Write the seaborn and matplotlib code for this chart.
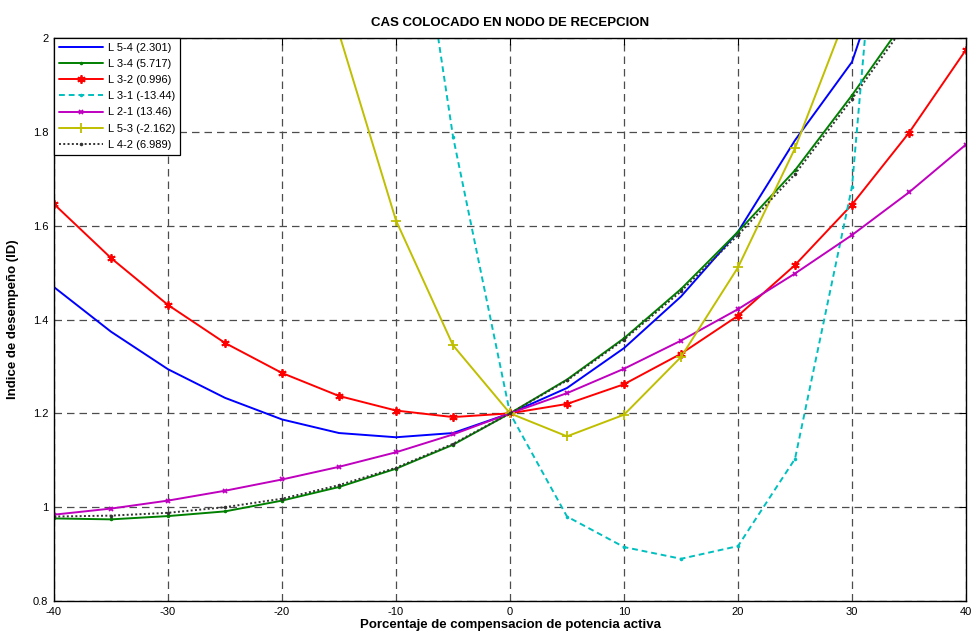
import seaborn as sns
import matplotlib.pyplot as plt
import pandas as pd

# porcentaje de compensacion
x = [-40, -35, -30, -25, -20, -15, -10, -5, 0, 5, 10, 15, 20, 25, 30, 35, 40]

# indice de desempeno por linea (valores fuera de 0.8-2 quedan recortados)
l54 = [1.469, 1.374, 1.294, 1.233, 1.187, 1.158, 1.149, 1.158, 1.2, 1.254, 1.339, 1.449, 1.587, 1.782, 1.949, 2.31, 2.70]
l34 = [0.976, 0.974, 0.981, 0.991, 1.014, 1.043, 1.082, 1.133, 1.2, 1.272, 1.360, 1.465, 1.587, 1.718, 1.878, 2.05, 2.25]
l32 = [1.646, 1.531, 1.431, 1.350, 1.286, 1.237, 1.206, 1.192, 1.2, 1.220, 1.262, 1.327, 1.408, 1.516, 1.645, 1.798, 1.975]
l31 = [7.0, 5.5, 4.5, 3.8, 3.3, 2.95, 2.6, 1.79, 1.2, 0.980, 0.915, 0.890, 0.917, 1.103, 1.683, 3.08, 4.5]
l21 = [0.984, 0.997, 1.014, 1.035, 1.059, 1.086, 1.117, 1.155, 1.2, 1.243, 1.295, 1.355, 1.422, 1.498, 1.580, 1.671, 1.773]
l53 = [6.6, 5.3, 4.2, 3.3, 2.6, 2.01, 1.611, 1.345, 1.2, 1.151, 1.197, 1.320, 1.511, 1.765, 2.08, 2.5, 3.0]
l42 = [0.980, 0.982, 0.988, 1.000, 1.018, 1.047, 1.084, 1.135, 1.2, 1.270, 1.357, 1.460, 1.580, 1.710, 1.870, 2.04, 2.24]

labels = ["L 5-4 (2.301)", "L 3-4 (5.717)", "L 3-2 (0.996)", "L 3-1 (-13.44)",
          "L 2-1 (13.46)", "L 5-3 (-2.162)", "L 4-2 (6.989)"]
series = [l54, l34, l32, l31, l21, l53, l42]

colors = ["#0000ff", "#008000", "#ff0000", "#00bfbf", "#bf00bf", "#bfbf00", "#333333"]
markers = [None, ".", (6, 2, 0), ".", "x", "+", "."]
msizes = [0, 2.5, 6, 2.5, 3.5, 7, 2.5]
styles = ["-", "-", "-", (0, (3, 2)), "-", "-", (0, (1, 1.2))]

sns.set_style("white")
plt.rcParams['font.family'] = ['Liberation Sans', 'DejaVu Sans']
plt.rcParams['axes.unicode_minus'] = False
plt.rcParams['text.color'] = 'black'
plt.rcParams['axes.labelcolor'] = 'black'

fig = plt.figure(figsize=(9.71, 6.37), dpi=100)
ax = fig.add_axes([54 / 971, 36 / 637, 912 / 971, 563 / 637])

for vals, lab, c, m, ms, ls in zip(series, labels, colors, markers, msizes, styles):
    df = pd.DataFrame({'x': x, 'y': vals})
    sns.lineplot(data=df, x='x', y='y', ax=ax, color=c, marker=m, markersize=ms,
                 markeredgecolor=c, markerfacecolor=c, markeredgewidth=1.3,
                 linestyle=ls, linewidth=1.4, label=lab)

ax.set_xlim(-40, 40)
ax.set_ylim(0.8, 2)
ax.set_xticks(range(-40, 41, 10))
ax.set_yticks([0.8, 1, 1.2, 1.4, 1.6, 1.8, 2])
ax.set_yticklabels(["0.8", "1", "1.2", "1.4", "1.6", "1.8", "2"])
ax.grid(True, color="0.3", linestyle=(0, (6, 4)), linewidth=0.9)
ax.tick_params(direction='in', length=5, width=0.8, labelsize=8, top=True, right=True,
               pad=4, colors='black')
for s in ax.spines.values():
    s.set_color('black')
    s.set_linewidth(1.0)

ax.set_title("CAS COLOCADO EN NODO DE RECEPCION", fontsize=9.5, fontweight='bold', pad=9)
ax.set_xlabel("Porcentaje de compensacion de potencia activa", fontsize=9.5, fontweight='bold', labelpad=2)
ax.set_ylabel("Indice de desempeño (ID)", fontsize=9.5, fontweight='bold', labelpad=10)

leg = ax.legend(loc='upper left', fontsize=8, frameon=True, fancybox=False,
                borderaxespad=0, handlelength=4.0, labelspacing=0.55, borderpad=0.45,
                handletextpad=0.4)
leg.get_frame().set_edgecolor('black')
leg.get_frame().set_linewidth(0.9)
leg.get_frame().set_alpha(1)

fig.savefig("out.png", dpi=100)
